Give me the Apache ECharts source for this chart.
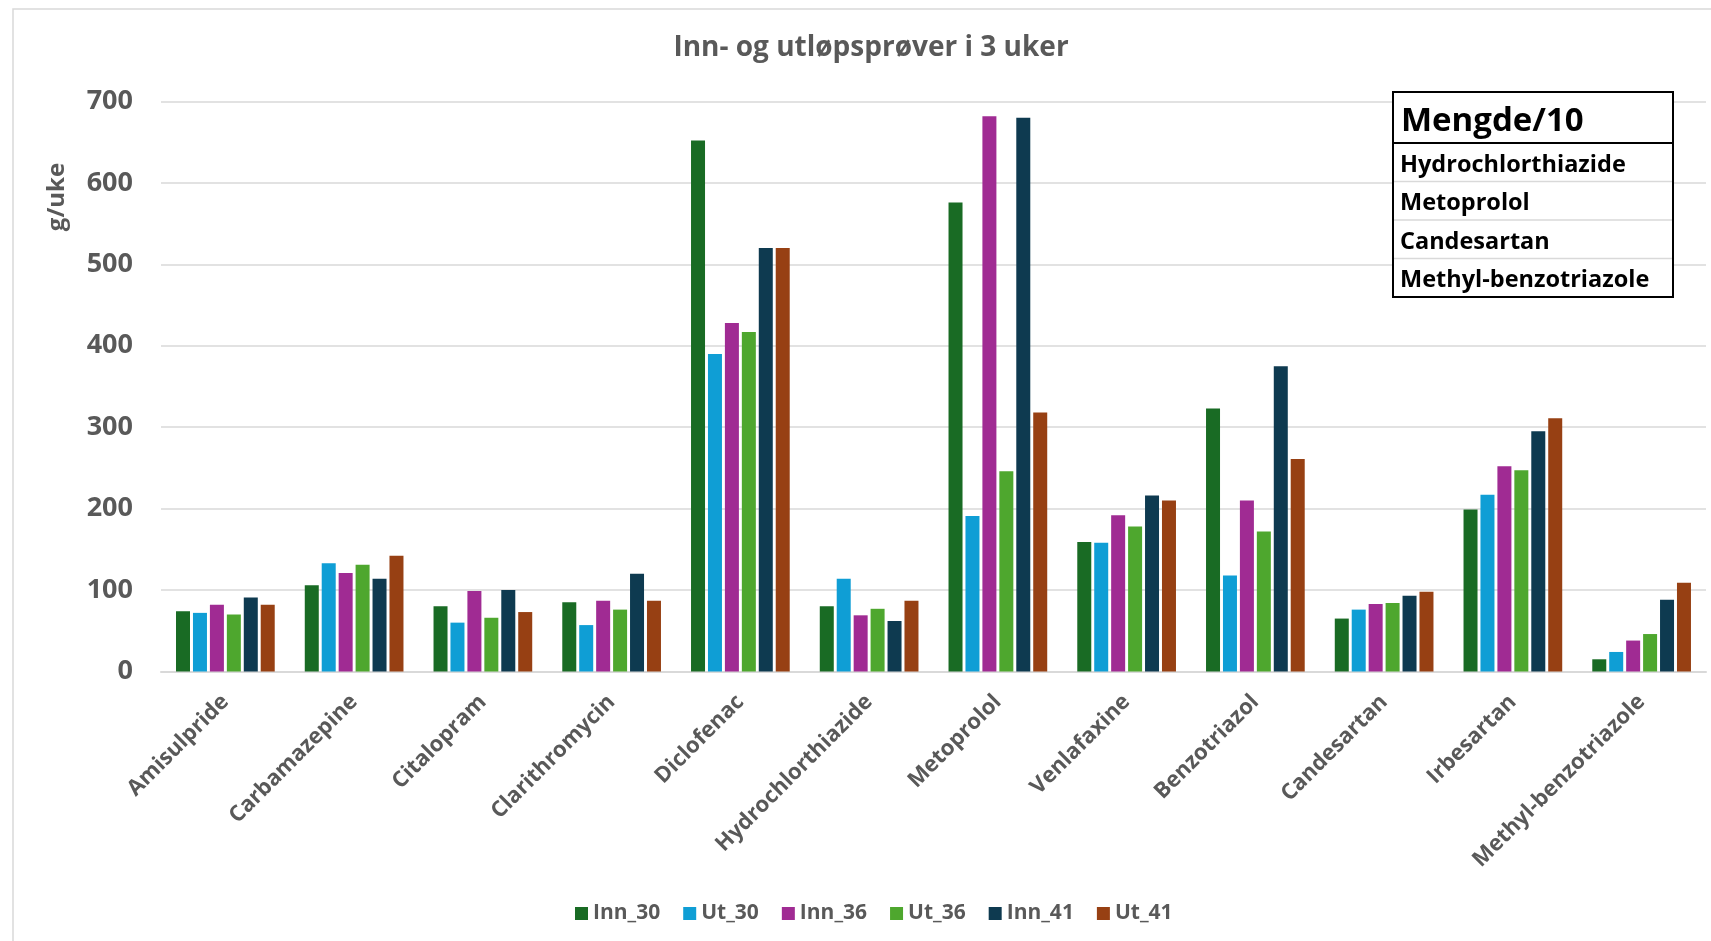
<!DOCTYPE html>
<html>
<head>
<meta charset="utf-8">
<script src="https://cdn.jsdelivr.net/npm/echarts@6/dist/echarts.min.js"></script>
<style>
html,body{margin:0;padding:0;background:#fff;}
#chart{width:1711px;height:941px;}
</style>
</head>
<body>
<div id="chart"></div>
<script>
const titleText = 'Inn- og utløpsprøver i 3 uker';
const yAxisTitle = 'g/uke';
const categories = ['Amisulpride','Carbamazepine','Citalopram','Clarithromycin','Diclofenac','Hydrochlorthiazide','Metoprolol','Venlafaxine','Benzotriazol','Candesartan','Irbesartan','Methyl-benzotriazole'];
const seriesNames = ['Inn_30','Ut_30','Inn_36','Ut_36','Inn_41','Ut_41'];
const inn30 = [74, 106, 80, 85, 652, 80, 576, 159, 323, 65, 199, 15];
const ut30  = [72, 133, 60, 57, 390, 114, 191, 158, 118, 76, 217, 24];
const inn36 = [82, 121, 99, 87, 428, 69, 682, 192, 210, 83, 252, 38];
const ut36  = [70, 131, 66, 76, 417, 77, 246, 178, 172, 84, 247, 46];
const inn41 = [91, 114, 100, 120, 520, 62, 680, 216, 375, 93, 295, 88];
const ut41  = [82, 142, 73, 87, 520, 87, 318, 210, 261, 98, 311, 109];
const yTicks = [0, 100, 200, 300, 400, 500, 600, 700];
const tableHeader = 'Mengde/10';
const tableRows = ['Hydrochlorthiazide','Metoprolol','Candesartan','Methyl-benzotriazole'];

const colors = ['#196B24','#0F9ED5','#A02B93','#4EA72E','#0E3A50','#974013'];
const allData = [inn30, ut30, inn36, ut36, inn41, ut41];
const FONT = 'Open Sans';
const GRAY = '#595959';

const chart = echarts.init(document.getElementById('chart'), null, {renderer:'canvas'});

// table graphic
const tbX = 1393, tbY = 92, tbW = 280, headH = 51, rowH = 38.5;
const tableEls = [];
tableEls.push({type:'rect', shape:{x:tbX, y:tbY, width:tbW, height:headH + rowH*tableRows.length}, style:{fill:'#fff', stroke:null}, z:10});
tableRows.forEach((r,i)=>{
  if(i>0){
    tableEls.push({type:'line', shape:{x1:tbX, y1:tbY+headH+rowH*i, x2:tbX+tbW, y2:tbY+headH+rowH*i}, style:{stroke:'#d9d9d9', lineWidth:1.5}, z:11});
  }
  tableEls.push({type:'text', x:tbX+7, y:tbY+headH+rowH*i+rowH/2+3, style:{text:r, font:'bold 23.5px "'+FONT+'"', fill:'#000', textAlign:'left', textVerticalAlign:'middle'}, z:12});
});
tableEls.push({type:'text', x:tbX+8, y:tbY+headH/2+4, style:{text:tableHeader, font:'bold 33px "'+FONT+'"', fill:'#000', textAlign:'left', textVerticalAlign:'middle'}, z:12});
tableEls.push({type:'line', shape:{x1:tbX, y1:tbY+headH, x2:tbX+tbW, y2:tbY+headH}, style:{stroke:'#000', lineWidth:2}, z:13});
tableEls.push({type:'rect', shape:{x:tbX, y:tbY, width:tbW, height:headH + rowH*tableRows.length}, style:{fill:null, stroke:'#000', lineWidth:2}, z:13});

const option = {
  backgroundColor:'#fff',
  animation:false,
  color: colors,
  title:{
    text: titleText,
    left: 866, top: 29,
    textAlign:'center',
    textStyle:{fontFamily:FONT, fontSize:28, fontWeight:'bold', color:GRAY}
  },
  legend:{
    data: seriesNames,
    left: 570, top: 898,
    itemWidth:13, itemHeight:13, itemGap:23,
    icon:'rect',
    textStyle:{fontFamily:FONT, fontSize:21, fontWeight:'bold', color:GRAY}
  },
  grid:{left:161, right:5, top:101.5, bottom:941-671.5, containLabel:false},
  xAxis:{
    type:'category',
    data: categories,
    axisTick:{show:false},
    axisLine:{show:true, lineStyle:{color:'#d9d9d9', width:2}},
    axisLabel:{rotate:45, margin:27, fontFamily:FONT, fontSize:22, fontWeight:'bold', color:GRAY, interval:0}
  },
  yAxis:{
    type:'value', min:yTicks[0], max:yTicks[yTicks.length-1], interval:100,
    axisLine:{show:false}, axisTick:{show:false},
    splitLine:{lineStyle:{color:'#d9d9d9', width:1.5}},
    axisLabel:{margin:28, fontFamily:FONT, fontSize:27, fontWeight:'bold', color:GRAY}
  },
  graphic:[
    {type:'rect', shape:{x:13, y:9, width:1720, height:960}, style:{fill:null, stroke:'#d9d9d9', lineWidth:1.5}, z:-1, silent:true},
    {type:'text', x:57, y:197, rotation:Math.PI/2, style:{text:yAxisTitle, font:'bold 24px "'+FONT+'"', fill:GRAY, textAlign:'center', textVerticalAlign:'middle'}},
    {type:'group', children: tableEls}
  ],
  series: seriesNames.map((n,i)=>({
    name:n, type:'bar', data: allData[i],
    barWidth:14, barGap:'21%',
    itemStyle:{color:colors[i]}
  }))
};
chart.setOption(option);
</script>
</body>
</html>
